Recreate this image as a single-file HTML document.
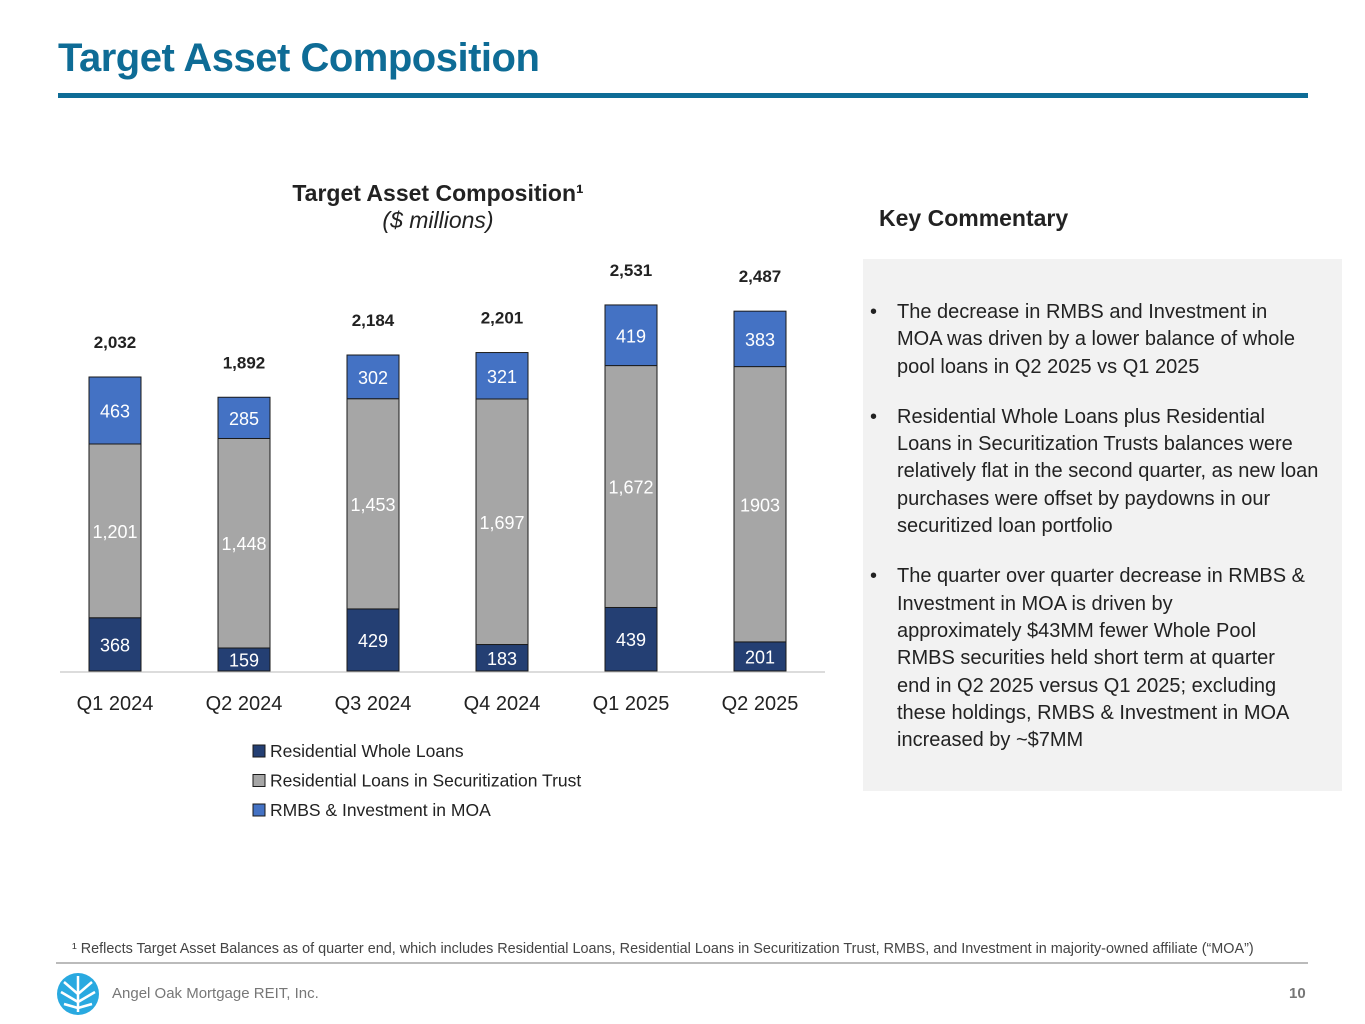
<!DOCTYPE html>
<html><head><meta charset="utf-8"><style>
body{margin:0;width:1365px;height:1024px;background:#fff;font-family:"Liberation Sans",sans-serif;position:relative;overflow:hidden}
.abs{position:absolute}
</style></head><body>
<div class="abs" style="left:58px;top:36px;font-size:40px;font-weight:bold;color:#0e6c96;letter-spacing:-0.5px">Target Asset Composition</div>
<div class="abs" style="left:58px;top:93px;width:1250px;height:5px;background:#0e6c96"></div>
<div class="abs" style="left:238px;top:180px;width:400px;text-align:center;font-size:23px;font-weight:bold;color:#222">Target Asset Composition¹<br><span style="font-weight:normal;font-style:italic">($ millions)</span></div>
<div class="abs" style="left:879px;top:205px;font-size:23px;font-weight:bold;color:#222">Key Commentary</div>
<div class="abs" style="left:863px;top:259px;width:479px;height:532px;background:#f2f2f2"></div>
<div class="abs" style="left:870px;top:299px;width:470px;font-size:20px;line-height:27.3px;color:#222">
<div style="display:flex"><span style="width:27px">•</span><span style="flex:1;padding-right:38px">The decrease in RMBS and Investment in MOA was driven by a lower balance of whole pool loans in Q2 2025 vs Q1 2025</span></div>
<div style="display:flex;margin-top:23px"><span style="width:27px">•</span><span style="flex:1;padding-right:18px">Residential Whole Loans plus Residential Loans in Securitization Trusts balances were relatively flat in the second quarter, as new loan purchases were offset by paydowns in our securitized loan portfolio</span></div>
<div style="display:flex;margin-top:23px"><span style="width:27px">•</span><span style="flex:1;white-space:nowrap">The quarter over quarter decrease in RMBS &amp;<br>Investment in MOA is driven by<br>approximately $43MM fewer Whole Pool<br>RMBS securities held short term at quarter<br>end in Q2 2025 versus Q1 2025; excluding<br>these holdings, RMBS &amp; Investment in MOA<br>increased by ~$7MM</span></div>
</div>
<svg class="abs" style="left:0;top:0" width="1365" height="1024" id="chart"></svg>
<div class="abs" style="left:72px;top:941px;font-size:14.4px;color:#444">¹ Reflects Target Asset Balances as of quarter end, which includes Residential Loans, Residential Loans in Securitization Trust, RMBS, and Investment in majority-owned affiliate (“MOA”)</div>
<div class="abs" style="left:56px;top:962px;width:1252px;height:2px;background:#bbb"></div>
<svg class="abs" style="left:56px;top:972px" width="44" height="44"><circle cx="22" cy="22" r="21" fill="#29a9e0"/><path d="M22 4V40M22 22L8 10M22 22L36 10M22 30L5 20M22 30L39 20M22 36L8 32M22 36L36 32" stroke="#fff" stroke-width="2.5" fill="none"/></svg>
<div class="abs" style="left:112px;top:985px;font-size:15px;color:#777">Angel Oak Mortgage REIT, Inc.</div>
<div class="abs" style="left:1289px;top:985px;font-size:15px;font-weight:bold;color:#777">10</div>
<script>
const categories=["Q1 2024","Q2 2024","Q3 2024","Q4 2024","Q1 2025","Q2 2025"];
const wholeLoans=[368,159,429,183,439,201];
const securitization=[1201,1448,1453,1697,1672,1903];
const rmbs=[463,285,302,321,419,383];
const totals=[2032,1892,2184,2201,2531,2487];
const secLabels=["1,201","1,448","1,453","1,697","1,672","1903"];
const svg=document.getElementById('chart');
const NS='http://www.w3.org/2000/svg';
const base=671,scale=294/2032;
const y=v=>base-v*scale;
const xc=i=>115+i*129;
function mk(t,a){const e=document.createElementNS(NS,t);for(const k in a)e.setAttribute(k,a[k]);svg.appendChild(e);return e;}
const axis=mk('line',{x1:60,x2:825,y1:base+1,y2:base+1,stroke:'#d0d0d0','stroke-width':1.5});


const series=[[wholeLoans,'#243f73','whole-loans'],[securitization,'#a6a6a6','securitization'],[rmbs,'#4472c4','rmbs']];
categories.forEach((c,i)=>{
 let cum=0;
 series.forEach(([arr,col,nm],s)=>{
  const v=arr[i];const top=y(cum+v),bot=y(cum);
  const r=mk('rect',{x:xc(i)-26,y:top,width:52,height:bot-top,fill:col,stroke:'#1a1a1a','stroke-width':1});
  
  
  const t=mk('text',{x:xc(i),y:(top+bot)/2+7,'text-anchor':'middle','font-size':18,fill:'#fff','font-family':'Liberation Sans'});
  t.textContent=s==1?secLabels[i]:String(v);
  
  
  cum+=v;
 });
 const tt=mk('text',{x:xc(i),y:y(cum)-29,'text-anchor':'middle','font-size':17,'font-weight':'bold',fill:'#222','font-family':'Liberation Sans'});
 tt.textContent=totals[i].toLocaleString('en-US');
 
 
 const xl=mk('text',{x:xc(i),y:710,'text-anchor':'middle','font-size':20,fill:'#222','font-family':'Liberation Sans'});
 xl.textContent=c;
 
 
});
const legendNames=["Residential Whole Loans","Residential Loans in Securitization Trust","RMBS & Investment in MOA"];
legendNames.forEach((n,k)=>{
 const yy=752+k*29.5;
 const r=mk('rect',{x:253,y:yy-7,width:12,height:12,fill:series[k][1],stroke:'#1a1a1a','stroke-width':1});
 
 
 const t=mk('text',{x:270,y:yy+5,'font-size':17.5,fill:'#222','font-family':'Liberation Sans'});
 t.textContent=n;
 
 
});
</script>
</body></html>
